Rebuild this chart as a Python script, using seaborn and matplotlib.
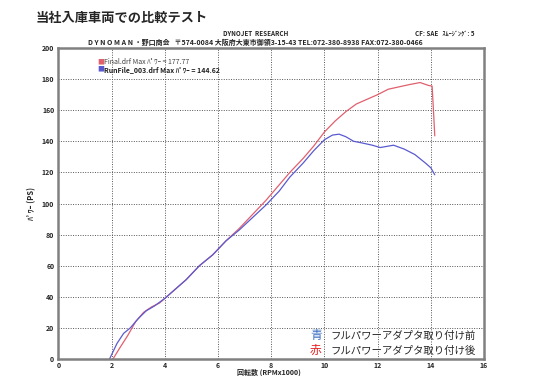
import numpy as np
import pandas as pd
import seaborn as sns
import matplotlib.pyplot as plt
from matplotlib.ticker import MultipleLocator

# Dyno run data (RPM x1000, power in PS)
rpm_after = [2.05, 2.3, 2.6, 2.9, 3.2, 3.5, 3.8, 4.0, 4.4, 4.8, 5.3, 5.8, 6.3, 6.8,
             7.3, 7.8, 8.3, 8.7, 9.2, 9.6, 10.0, 10.4, 10.8, 11.2, 11.6, 12.0, 12.4,
             12.8, 13.2, 13.6, 13.9, 14.05, 14.1, 14.15]
ps_after = [0, 7, 15, 24, 30, 33.5, 36, 39, 45, 51, 60, 67, 76, 84,
            93, 102, 112, 120, 129, 137, 146, 153, 159, 164, 167, 170, 173.5,
            175, 176.5, 177.8, 176, 175.5, 160, 143.5]

rpm_before = [1.92, 2.2, 2.45, 2.7, 3.0, 3.3, 3.6, 4.0, 4.4, 4.8, 5.3, 5.8, 6.3, 6.8,
              7.3, 7.8, 8.3, 8.7, 9.2, 9.6, 10.0, 10.3, 10.55, 10.8, 11.1, 11.4, 11.8,
              12.1, 12.6, 13.0, 13.4, 13.8, 14.0, 14.15]
ps_before = [0, 10, 16.5, 20, 26, 31, 34, 39, 45, 51, 60, 67, 76, 83,
             91, 99, 108, 117, 126, 134, 141, 144, 144.6, 143, 140, 139, 137.5,
             136, 137.5, 135, 131.5, 126, 123, 118.5]

run_names = ['Final.drf', 'RunFile_003.drf']
max_power = [177.77, 144.62]
x_ticks = [0, 2, 4, 6, 8, 10, 12, 14, 16]
y_ticks = [0, 20, 40, 60, 80, 100, 120, 140, 160, 180, 200]

df = pd.concat([
    pd.DataFrame({'rpm': rpm_after, 'ps': ps_after, 'run': run_names[0]}),
    pd.DataFrame({'rpm': rpm_before, 'ps': ps_before, 'run': run_names[1]}),
])

sns.set_style('white')
plt.rcParams['font.family'] = ['Noto Sans CJK JP', 'DejaVu Sans']

red = '#e0606e'
blue = '#5a5ad0'

fig = plt.figure(figsize=(5.43, 3.76), dpi=100)
ax = fig.add_axes([0.1077, 0.0452, 0.7836, 0.8271])

sns.lineplot(data=df, x='rpm', y='ps', hue='run', palette=[red, blue],
             sort=False, estimator=None, linewidth=0.9, legend=False, ax=ax)

ax.set_xlim(0, 16)
ax.set_ylim(0, 200)
ax.set_xticks(x_ticks)
ax.set_yticks(y_ticks)
ax.xaxis.set_minor_locator(MultipleLocator(0.5))
ax.yaxis.set_minor_locator(MultipleLocator(5))
ax.grid(True, which='major', linestyle=(0, (1, 1.5)), color='#555555', linewidth=0.7)
ax.tick_params(which='both', direction='inout', color='#777777', labelsize=5, pad=1)
ax.tick_params(axis='x', which='both', pad=0)
ax.tick_params(which='major', length=4, width=0.8)
ax.tick_params(which='minor', length=2.5, width=0.6)
for lbl in ax.get_xticklabels() + ax.get_yticklabels():
    lbl.set_fontweight('bold')
for s in ax.spines.values():
    s.set_color('#808080')
    s.set_linewidth(1.8)

ax.set_xlabel('')
ax.set_ylabel('ﾊﾟﾜｰ (PS)', fontsize=5.5, fontweight='bold', labelpad=4)
fig.text(0.495, 0.011, '回転数 (RPMx1000)', fontsize=5, fontweight='bold', ha='center', va='center')

# run legend in the top-left corner
ax.text(0.092, 0.955, '■', color=red, fontsize=5, transform=ax.transAxes, va='center')
ax.text(0.107, 0.955, f'{run_names[0]} Max ﾊﾟﾜｰ = {max_power[0]:.2f}',
        fontsize=5, color='#444444', transform=ax.transAxes, va='center')
ax.text(0.092, 0.932, '■', color=blue, fontsize=5, transform=ax.transAxes, va='center')
ax.text(0.107, 0.932, f'{run_names[1]} Max ﾊﾟﾜｰ = {max_power[1]:.2f}',
        fontsize=5, color='#222222', fontweight='bold', transform=ax.transAxes, va='center')

# note in the lower-right corner
ax.text(0.591, 0.074, '青', color='#3a6fc0', fontsize=8.5, transform=ax.transAxes, va='center')
ax.text(0.98, 0.074, 'フルパワーアダプタ取り付け前', fontsize=7.5, transform=ax.transAxes,
        va='center', ha='right')
ax.text(0.591, 0.026, '赤', color='#e82020', fontsize=8.5, transform=ax.transAxes, va='center')
ax.text(0.98, 0.026, 'フルパワーアダプタ取り付け後', fontsize=7.5, transform=ax.transAxes,
        va='center', ha='right')

# page header
fig.text(0.066, 0.952, '当社入庫車両での比較テスト', fontsize=9.5, fontweight='bold', va='center')
fig.text(0.471, 0.912, 'DYNOJET  RESEARCH', fontsize=4.5, fontweight='bold', ha='center', va='center')
fig.text(0.873, 0.912, 'CF: SAE   ｽﾑｰｼﾞﾝｸﾞ: 5', fontsize=4.5, fontweight='bold', ha='right', va='center')
fig.text(0.162, 0.888, 'D Y N O M A N ・野口商会   〒574-0084 大阪府大東市御領3-15-43 '
         'TEL:072-380-8938 FAX:072-380-0466', fontsize=5, fontweight='bold', va='center')

fig.savefig('out.png', dpi=100)
plt.close(fig)
